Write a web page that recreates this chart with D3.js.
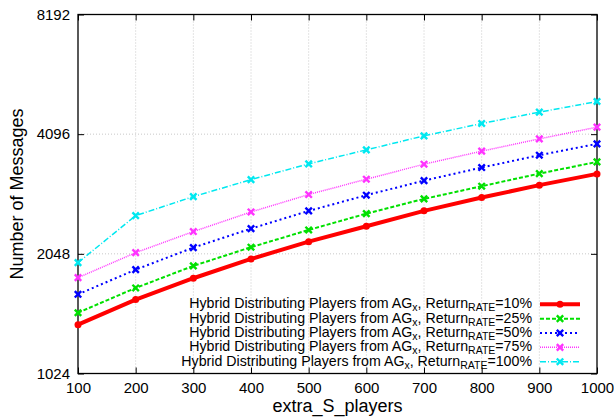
<!DOCTYPE html>
<html>
<head>
<meta charset="utf-8">
<script src="https://cdn.jsdelivr.net/npm/d3@7"></script>
<style>
  body { margin: 0; background: #fff; }
  text { font-family: "Liberation Sans", Arial, sans-serif; fill: #000; }
</style>
</head>
<body>
<svg id="chart" width="614" height="419"></svg>
<script>
var xValues = [100, 200, 300, 400, 500, 600, 700, 800, 900, 1000];
var yTicks = [1024, 2048, 4096, 8192];
var rates = ["10%", "25%", "50%", "75%", "100%"];
var rate10 = [1359, 1571, 1778, 1988, 2198, 2403, 2627, 2837, 3049, 3254];
var rate25 = [1456, 1681, 1910, 2128, 2352, 2585, 2815, 3030, 3260, 3488];
var rate50 = [1620, 1869, 2123, 2370, 2626, 2876, 3130, 3376, 3626, 3873];
var rate75 = [1784, 2062, 2330, 2610, 2887, 3156, 3442, 3712, 3986, 4266];
var rate100 = [1946, 2555, 2853, 3148, 3449, 3740, 4056, 4357, 4653, 4949];

var series = [
  {rate: rates[0], values: rate10, color: "#ff0000", width: 4, dash: null, mark: "circle"},
  {rate: rates[1], values: rate25, color: "#00e000", width: 2, dash: "4,2", mark: "cross"},
  {rate: rates[2], values: rate50, color: "#0000ff", width: 2, dash: "2,3", mark: "cross"},
  {rate: rates[3], values: rate75, color: "#ff33ff", width: 1.5, dash: "1,1", mark: "cross"},
  {rate: rates[4], values: rate100, color: "#00e8f0", width: 1.5, dash: "6,2,1,2", mark: "cross"}
];

var margin = {left: 78, right: 17, top: 14.5, bottom: 45.5};
var W = 614, H = 419;
var svg = d3.select("#chart");

var x = d3.scaleLinear().domain([100, 1000]).range([margin.left, W - margin.right]);
var y = d3.scaleLog().base(2).domain([1024, 8192]).range([H - margin.bottom, margin.top]);

// grid
var grid = svg.append("g").attr("stroke", "#c8c8c8").attr("stroke-dasharray", "1,2").attr("stroke-width", 1);
xValues.slice(1, -1).forEach(function(v) {
  grid.append("line").attr("x1", x(v)).attr("x2", x(v)).attr("y1", y(1024)).attr("y2", y(8192));
});
yTicks.slice(1, -1).forEach(function(v) {
  grid.append("line").attr("x1", x(100)).attr("x2", x(1000)).attr("y1", y(v)).attr("y2", y(v));
});

// axes, ticks inward on all sides
function styleText(g) {
  g.select(".domain").remove();
  g.selectAll("text").attr("font-size", 15).attr("font-family", "Liberation Sans, Arial, sans-serif");
}
svg.append("g").attr("transform", "translate(0," + y(1024) + ")")
  .call(d3.axisBottom(x).tickValues(xValues).tickFormat(d3.format("d")).tickSizeInner(-6).tickSizeOuter(0).tickPadding(9))
  .call(styleText);
svg.append("g").attr("transform", "translate(0," + y(8192) + ")")
  .call(d3.axisTop(x).tickValues(xValues).tickSizeInner(-6).tickSizeOuter(0).tickFormat(""))
  .call(function(g) { g.select(".domain").remove(); });
svg.append("g").attr("transform", "translate(" + x(100) + ",0)")
  .call(d3.axisLeft(y).tickValues(yTicks).tickFormat(d3.format("d")).tickSizeInner(-6).tickSizeOuter(0).tickPadding(8))
  .call(styleText);
svg.append("g").attr("transform", "translate(" + x(1000) + ",0)")
  .call(d3.axisRight(y).tickValues(yTicks).tickSizeInner(-6).tickSizeOuter(0).tickFormat(""))
  .call(function(g) { g.select(".domain").remove(); });
svg.selectAll(".tick line").attr("stroke", "#000");

svg.append("rect")
  .attr("x", x(100)).attr("y", y(8192))
  .attr("width", x(1000) - x(100)).attr("height", y(1024) - y(8192))
  .attr("fill", "none").attr("stroke", "#000").attr("stroke-width", 1.3);

// axis titles
svg.append("text").attr("x", (x(100) + x(1000)) / 2).attr("y", 412)
  .attr("text-anchor", "middle").attr("font-size", 18).text("extra_S_players");
svg.append("text").attr("transform", "translate(23," + ((y(1024) + y(8192)) / 2) + ") rotate(-90)")
  .attr("text-anchor", "middle").attr("font-size", 18).text("Number of Messages");

function drawMark(g, mark, cx, cy, color) {
  if (mark === "circle") {
    g.append("circle").attr("cx", cx).attr("cy", cy).attr("r", 3.5).attr("fill", color);
  } else {
    var s = 3.2;
    g.append("path")
      .attr("d", "M" + (cx - s) + "," + (cy - s) + "L" + (cx + s) + "," + (cy + s) +
                 "M" + (cx - s) + "," + (cy + s) + "L" + (cx + s) + "," + (cy - s))
      .attr("stroke", color).attr("stroke-width", 2.4).attr("fill", "none");
  }
}

var line = d3.line().x(function(d, i) { return x(xValues[i]); }).y(function(d) { return y(d); });

// legend
var legendRight = 532, sampleX1 = 540, sampleX2 = 580;
series.forEach(function(s, k) {
  var ly = 304.3 + k * 14.35;
  var t = svg.append("text").attr("x", legendRight).attr("y", ly + 4)
    .attr("text-anchor", "end").attr("font-size", 14.2);
  t.append("tspan").text("Hybrid Distributing Players from AG");
  t.append("tspan").attr("font-size", 10.5).attr("dy", 3).text("x");
  t.append("tspan").attr("dy", -3).text(", Return");
  t.append("tspan").attr("font-size", 10.5).attr("dy", 3).text("RATE");
  t.append("tspan").attr("dy", -3).text("=" + s.rate);
  var g = svg.append("g");
  g.append("line").attr("x1", sampleX1).attr("x2", sampleX2).attr("y1", ly).attr("y2", ly)
    .attr("stroke", s.color).attr("stroke-width", s.width).attr("stroke-dasharray", s.dash);
  drawMark(g, s.mark, (sampleX1 + sampleX2) / 2, ly, s.color);
});

// series
series.forEach(function(s) {
  var g = svg.append("g");
  g.append("path").datum(s.values).attr("d", line)
    .attr("fill", "none").attr("stroke", s.color).attr("stroke-width", s.width)
    .attr("stroke-dasharray", s.dash).attr("stroke-linejoin", "round");
  s.values.forEach(function(v, i) { drawMark(g, s.mark, x(xValues[i]), y(v), s.color); });
});
</script>
</body>
</html>
